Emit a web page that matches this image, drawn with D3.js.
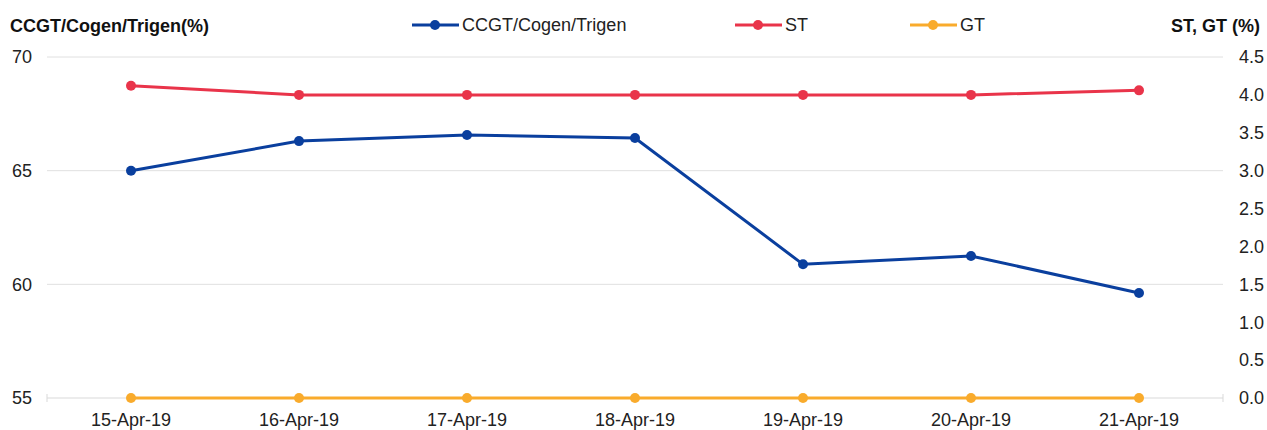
<!DOCTYPE html>
<html>
<head>
<meta charset="utf-8">
<script src="https://cdn.jsdelivr.net/npm/d3@7"></script>
<style>
body { margin: 0; background: #fff; }
text { font-family: "Liberation Sans", Arial, sans-serif; }
</style>
</head>
<body>
<svg width="1267" height="430"></svg>
<script>
var dates = ["15-Apr-19", "16-Apr-19", "17-Apr-19", "18-Apr-19", "19-Apr-19", "20-Apr-19", "21-Apr-19"];
var ccgt = [65.0, 66.3, 66.57, 66.44, 60.88, 61.25, 59.62];
var st = [4.12, 4.0, 4.0, 4.0, 4.0, 4.0, 4.06];
var gt = [0, 0, 0, 0, 0, 0, 0];
var leftTicks = [55, 60, 65, 70];
var rightTicks = [0, 0.5, 1, 1.5, 2, 2.5, 3, 3.5, 4, 4.5];

var svg = d3.select("svg");
var margin = {left: 47, right: 44, top: 57, bottom: 32};
var width = +svg.attr("width") - margin.left - margin.right;
var height = +svg.attr("height") - margin.top - margin.bottom;

var g = svg.append("g")
    .attr("transform", "translate(" + margin.left + "," + margin.top + ")");

var x = d3.scalePoint()
    .domain(dates)
    .range([0, width])
    .padding(0.5);

var yL = d3.scaleLinear().domain([55, 70]).range([height, 0]);
var yR = d3.scaleLinear().domain([0, 4.5]).range([height, 0]);

// gridlines
g.selectAll(".grid")
    .data(leftTicks.slice(1))
    .enter().append("line")
    .attr("x1", 0).attr("x2", width)
    .attr("y1", yL).attr("y2", yL)
    .attr("stroke", "#e0e0e0").attr("stroke-width", 1);

// bottom axis line
g.append("line")
    .attr("x1", 0).attr("x2", width)
    .attr("y1", height).attr("y2", height)
    .attr("stroke", "#d9d9d9");
g.selectAll(".endtick")
    .data([0, width])
    .enter().append("line")
    .attr("x1", function(d) { return d; }).attr("x2", function(d) { return d; })
    .attr("y1", height - 4).attr("y2", height + 4)
    .attr("stroke", "#d9d9d9");

// axis labels
g.selectAll(".lt")
    .data(leftTicks)
    .enter().append("text")
    .attr("x", -15).attr("y", yL)
    .attr("dy", "0.35em")
    .attr("text-anchor", "end")
    .style("font-size", "18px").style("fill", "#222")
    .text(function(d) { return d; });

g.selectAll(".rt")
    .data(rightTicks)
    .enter().append("text")
    .attr("x", width + 16).attr("y", yR)
    .attr("dy", "0.35em")
    .attr("text-anchor", "start")
    .style("font-size", "18px").style("fill", "#222")
    .text(function(d) { return d.toFixed(1); });

g.selectAll(".xt")
    .data(dates)
    .enter().append("text")
    .attr("x", x).attr("y", height + 28)
    .attr("text-anchor", "middle")
    .style("font-size", "18px").style("fill", "#222")
    .text(function(d) { return d; });

svg.append("text")
    .attr("x", 10).attr("y", 32)
    .style("font-size", "18px").style("font-weight", "bold").style("fill", "#111")
    .text("CCGT/Cogen/Trigen(%)");

svg.append("text")
    .attr("x", 1260).attr("y", 32)
    .attr("text-anchor", "end")
    .style("font-size", "18px").style("font-weight", "bold").style("fill", "#111")
    .text("ST, GT (%)");

var series = [
    {name: "CCGT/Cogen/Trigen", values: ccgt, y: yL, color: "#0a3f9e", lx: 412},
    {name: "ST", values: st, y: yR, color: "#e9344a", lx: 735},
    {name: "GT", values: gt, y: yR, color: "#f9ab2c", lx: 910}
];

// draw GT first so it sits below, then ST and CCGT
[series[2], series[1], series[0]].forEach(function(s) {
    var line = d3.line()
        .x(function(d, i) { return x(dates[i]); })
        .y(function(d) { return s.y(d); });
    g.append("path")
        .datum(s.values)
        .attr("d", line)
        .attr("fill", "none")
        .attr("stroke", s.color)
        .attr("stroke-width", 3);
    g.selectAll(null)
        .data(s.values)
        .enter().append("circle")
        .attr("cx", function(d, i) { return x(dates[i]); })
        .attr("cy", function(d) { return s.y(d); })
        .attr("r", 5)
        .attr("fill", s.color);
});

// legend
var legend = svg.append("g");
series.forEach(function(s) {
    legend.append("line")
        .attr("x1", s.lx).attr("x2", s.lx + 47)
        .attr("y1", 25).attr("y2", 25)
        .attr("stroke", s.color).attr("stroke-width", 3);
    legend.append("circle")
        .attr("cx", s.lx + 23).attr("cy", 25).attr("r", 5)
        .attr("fill", s.color);
    legend.append("text")
        .attr("x", s.lx + 50).attr("y", 25)
        .attr("dy", "0.35em")
        .style("font-size", "18px").style("fill", "#222")
        .text(s.name);
});
</script>
</body>
</html>
